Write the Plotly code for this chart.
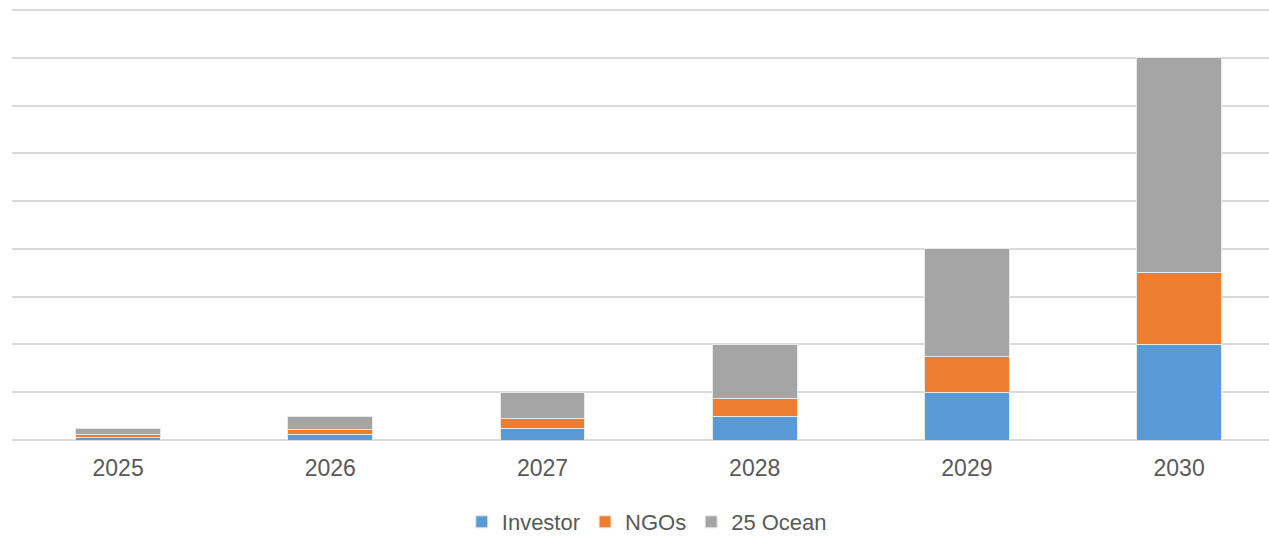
import plotly.graph_objects as go

years = ["2025", "2026", "2027", "2028", "2029", "2030"]
investor = [0.06, 0.125, 0.25, 0.5, 1.0, 2.0]
ngos = [0.045, 0.09, 0.19, 0.375, 0.75, 1.5]
ocean = [0.14, 0.285, 0.56, 1.125, 2.25, 4.5]

series = [
    ("Investor", investor, "#5B9BD5"),
    ("NGOs", ngos, "#ED7D31"),
    ("25 Ocean", ocean, "#A5A5A5"),
]

fig = go.Figure()
for name, vals, col in series:
    fig.add_trace(go.Bar(
        x=list(range(len(years))), y=vals, name=name,
        marker=dict(color=col, line=dict(color="#e8e8e8", width=1)),
        width=0.4,
    ))

W, H = 1269, 536
left, top, bottom = 12, 8, 96
plot_w = W - left
cat_px = 212.2
ymax = 9 + 2 / 47.78
fig.update_layout(
    width=W, height=H,
    barmode="stack",
    margin=dict(l=left, r=0, t=top, b=bottom, pad=0),
    paper_bgcolor="white", plot_bgcolor="white",
    font=dict(family="Liberation Sans, Arial, sans-serif", size=23, color="#595959"),
    showlegend=True,
    legend=dict(orientation="h", x=0.505, xanchor="center", yref="container",
                y=(536 - 522) / 536, yanchor="middle", font=dict(size=22, color="#595959"),
                itemclick=False, traceorder="normal"),
    xaxis=dict(
        tickmode="array", tickvals=list(range(len(years))), ticktext=years,
        range=[-0.5, -0.5 + plot_w / cat_px],
        showgrid=False, zeroline=False, showline=False, ticks="",
        tickfont=dict(size=23, color="#595959"),
        ticklabelstandoff=12,
        fixedrange=True,
    ),
    yaxis=dict(
        range=[0, ymax], tickvals=list(range(10)), showticklabels=False, ticks="",
        showgrid=True, gridcolor="#d9d9d9", gridwidth=2,
        zeroline=True, zerolinecolor="#d9d9d9", zerolinewidth=2,
        showline=False, fixedrange=True,
    ),
)

fig.write_html("out.html")
